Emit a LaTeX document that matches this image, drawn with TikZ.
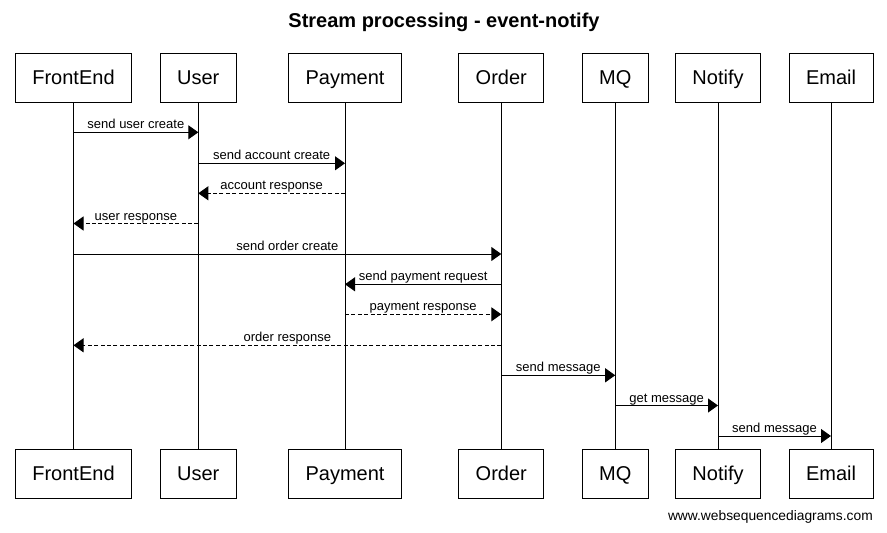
\documentclass[tikz,border=0pt]{standalone}
\usepackage{fontspec}
\setmainfont{Liberation Sans}
\usetikzlibrary{arrows.meta}
\begin{document}
\begin{tikzpicture}[x=1pt,y=-1pt,
  part/.style={draw,line width=1pt,minimum height=49pt,inner xsep=17pt,inner ysep=0pt,text height=14.3pt,text depth=0pt,font=\fontsize{20}{24}\selectfont},
  life/.style={line width=1pt},
  msg/.style={line width=1pt,-{Triangle[length=10pt,width=14pt]}},
  ret/.style={msg,dash pattern=on 4pt off 2.4pt},
  lbl/.style={font=\fontsize{13}{15}\selectfont,anchor=base,yshift=3.5pt,inner sep=0pt}]
\useasboundingbox (0,0) rectangle (887,533);
\node[font=\fontsize{20}{24}\selectfont\bfseries] (title) at (444,22) {Stream processing - event-notify};
% top participants
\node[part] (fa) at (73.5,77.8) {FrontEnd};
\node[part] (ua) at (198.3,77.8) {User};
\node[part] (pa) at (345,77.8) {Payment};
\node[part] (oa) at (501.3,77.8) {Order};
\node[part] (ma) at (615.2,77.8) {MQ};
\node[part] (na) at (718,77.8) {Notify};
\node[part] (ea) at (831,77.8) {Email};
% bottom participants
\node[part] (fb) at (73.5,473.8) {FrontEnd};
\node[part] (ub) at (198.3,473.8) {User};
\node[part] (pb) at (345,473.8) {Payment};
\node[part] (ob) at (501.3,473.8) {Order};
\node[part] (mb) at (615.2,473.8) {MQ};
\node[part] (nb) at (718,473.8) {Notify};
\node[part] (eb) at (831,473.8) {Email};
% lifelines
\foreach \a/\b in {fa/fb,ua/ub,pa/pb,oa/ob,ma/mb,na/nb,ea/eb}
  \draw[life] (\a.south) -- (\b.north);
% messages
\draw[msg] (fa |- 0,132.3) -- node[lbl]{send user create} (ua |- 0,132.3);
\draw[msg] (ua |- 0,163.3) -- node[lbl]{send account create} (pa |- 0,163.3);
\draw[ret] (pa |- 0,193.3) -- node[lbl]{account response} (ua |- 0,193.3);
\draw[ret] (ua |- 0,223.5) -- node[lbl]{user response} (fa |- 0,223.5);
\draw[msg] (fa |- 0,254) -- node[lbl]{send order create} (oa |- 0,254);
\draw[msg] (oa |- 0,284.3) -- node[lbl]{send payment request} (pa |- 0,284.3);
\draw[ret] (pa |- 0,314.3) -- node[lbl]{payment response} (oa |- 0,314.3);
\draw[ret] (oa |- 0,345.3) -- node[lbl]{order response} (fa |- 0,345.3);
\draw[msg] (oa |- 0,375.3) -- node[lbl]{send message} (ma |- 0,375.3);
\draw[msg] (ma |- 0,405.5) -- node[lbl]{get message} (na |- 0,405.5);
\draw[msg] (na |- 0,436) -- node[lbl]{send message} (ea |- 0,436);
\node[anchor=east,inner sep=0pt,font=\fontsize{13.8}{16}\selectfont] (wm) at (873,517) {www.websequencediagrams.com};
\end{tikzpicture}
\end{document}
